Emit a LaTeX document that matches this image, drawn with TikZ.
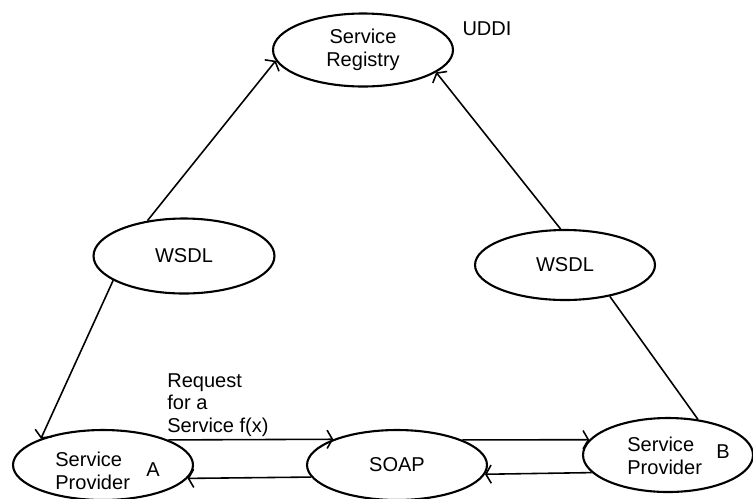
\documentclass[tikz,border=0pt]{standalone}
\usepackage{fontspec}
\setmainfont{Liberation Sans}
\usepackage{tikz}
\usetikzlibrary{shapes.geometric, arrows, arrows.meta}
\tikzstyle{ell} = [ellipse, draw=black, line width=1.2pt, minimum width=3.6cm, minimum height=1.4cm, inner sep=0pt, font=\fontsize{11.4}{12.8}\selectfont, align=center]
\tikzstyle{arrow} = [line width=0.9pt,-{Straight Barb[angle=120:6pt]}]
\tikzstyle{txt} = [font=\fontsize{11.4}{12.8}\selectfont, inner sep=0pt]

\begin{document}
\begin{tikzpicture}[x=0.02cm,y=-0.02cm]
			\useasboundingbox (0,0) rectangle (753,498);
			% registry
			\coordinate (P1) at (363,50);
			% wsdl
			\coordinate (P2) at (184,256);
			\coordinate (P3) at (565,265);
			% provider a, soap, provider b
			\coordinate (P4) at (103,465);
			\coordinate (P5) at (397,465);
			\coordinate (P6) at (668,455);
			\begin{scope}[every node/.style={ell}]
			\node[name=reg, minimum height=1.46cm] at (P1) {Service\\Registry};
			\node[name=wsdlL, minimum width=3.62cm, minimum height=1.5cm] at (P2) {WSDL};
			\node[name=wsdlR] at (P3) {WSDL};
			\node[name=provA] at (P4) {};
			\node[name=soap] at (P5) {SOAP};
			\node[name=provB, minimum width=3.4cm, minimum height=1.48cm] at (P6) {};
			\end{scope}
			\begin{scope}[every node/.style={txt}]
			\node[name=uddi] at (487,29) {UDDI};
			\node[name=txtA, anchor=west, align=left] at (55,471) {Service\\Provider};
			\node[name=lblA] at (153,470) {A};
			\node[name=txtB, anchor=west, align=left] at (627,456) {Service\\Provider};
			\node[name=lblB] at (723,452) {B};
			\node[name=req, anchor=north west, align=left] at (167,373) {Request\\for a\\Service f(x)};
			\end{scope}
			\draw[arrow] (wsdlL.136.6) -- (reg.187.8);
			\draw[arrow] (wsdlR.97.7) -- (reg.343.4);
			\draw[arrow] (wsdlL.199.9) -- (provA.157.4);
			\draw[line width=0.9pt] (wsdlR.325.8) -- (provB.50.2);
			\draw[arrow] (provA.21.6) -- (soap.158.4);
			\draw[arrow] (soap.188.1) -- (provA.351.9);
			\draw[arrow] (soap.21.6) -- (provB.169.1);
			\draw[arrow] (provB.193.6) -- (soap.354.8);
\end{tikzpicture}
\end{document}
